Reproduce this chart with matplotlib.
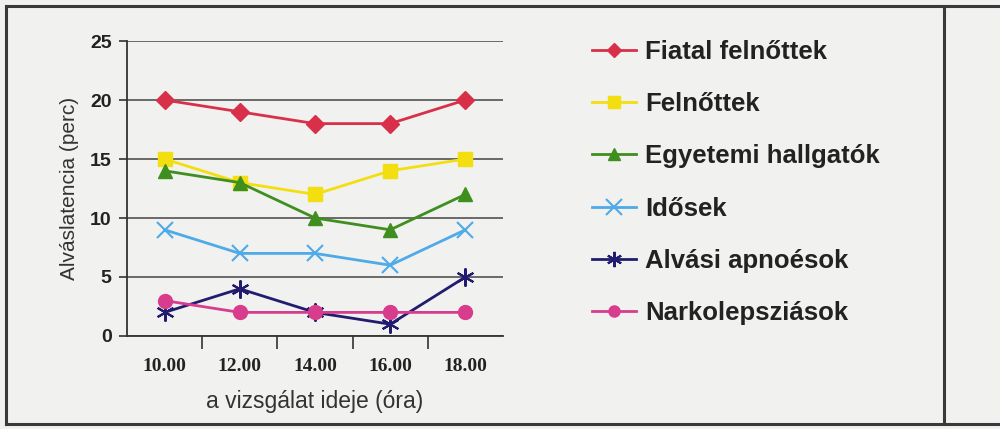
import matplotlib
matplotlib.use("Agg")
import matplotlib.pyplot as plt
from matplotlib.lines import Line2D

times = ["10.00", "12.00", "14.00", "16.00", "18.00"]
groups = ["Fiatal felnőttek", "Felnőttek", "Egyetemi hallgatók",
          "Idősek", "Alvási apnoésok", "Narkolepsziások"]
fiatal_felnottek = [20, 19, 18, 18, 20]
felnottek = [15, 13, 12, 14, 15]
egyetemi_hallgatok = [14, 13, 10, 9, 12]
idosek = [9, 7, 7, 6, 9]
alvasi_apnoesok = [2, 4, 2, 1, 5]
narkolepsziasok = [3, 2, 2, 2, 2]
series = [fiatal_felnottek, felnottek, egyetemi_hallgatok,
          idosek, alvasi_apnoesok, narkolepsziasok]
y_ticks = [0, 5, 10, 15, 20, 25]

colors = ["#d9304a", "#f3df10", "#3f8f1f", "#4eaae8", "#221c6e", "#d83c8c"]
markers = ["D", "s", "^", "x", (6, 2, 0), "o"]
plot_ms = [9, 10, 10, 12, 13, 10]
leg_ms = [7, 8, 8, 11, 11, 8]
mews = [1, 1, 1, 1.5, 1.5, 1]

bg = "#f1f1ef"
fig = plt.figure(figsize=(10, 4.29), dpi=100, facecolor=bg)
ax = fig.add_axes([0.127, 0.2168, 0.376, 0.6876], facecolor=bg)

xs = [i + 0.5 for i in range(len(times))]
handles = []
for vals, c, m, ms, lms, mew, name in zip(series, colors, markers, plot_ms,
                                          leg_ms, mews, groups):
    ax.plot(xs, vals, color=c, linewidth=2, marker=m, markersize=ms,
            markeredgewidth=mew)
    handles.append(Line2D([], [], color=c, linewidth=2, marker=m,
                          markersize=lms, markeredgewidth=mew, label=name))

ax.set_xlim(0, len(times))
ax.set_ylim(0, 25)
ax.set_yticks(y_ticks)
ax.set_yticklabels([str(v) for v in y_ticks], fontsize=14, fontweight="bold",
                   family="Liberation Sans", color="#222222")
ax.set_xticks(range(1, len(times)))
ax.set_xticklabels([])
ax.set_xticks(xs, minor=True)
ax.set_xticklabels(times, minor=True, fontsize=14, fontweight="bold",
                   family="Liberation Serif", color="#222222")
ax.tick_params(axis="x", which="major", length=9, width=1.2, direction="out", color="#333333")
ax.tick_params(axis="x", which="minor", length=0, pad=16)
ax.tick_params(axis="y", length=6, width=1.2, color="#333333", pad=5)
ax.grid(axis="y", color="#444444", linewidth=1.1)
ax.set_axisbelow(True)
for s in ["top", "right"]:
    ax.spines[s].set_visible(False)
for s in ["left", "bottom"]:
    ax.spines[s].set_color("#333333")
    ax.spines[s].set_linewidth(1.3)

ax.set_ylabel("Alváslatencia (perc)", fontsize=15, family="Liberation Sans",
              color="#333333", labelpad=8)
ax.set_xlabel("a vizsgálat ideje (óra)", fontsize=16.5, family="Liberation Sans",
              color="#333333", labelpad=11)

leg = fig.legend(handles=handles, loc="upper left", bbox_to_anchor=(0.569, 0.961),
                 frameon=False, handlelength=1.71, handletextpad=0.35,
                 labelspacing=1.1,
                 prop=dict(family="Liberation Sans", weight="bold", size=18.5))
for t in leg.get_texts():
    t.set_color("#222222")

# outer frame and right divider
frame_kw = dict(color="#3a3a3a", linewidth=2.2, transform=fig.transFigure)
fig.add_artist(Line2D([0.006, 1.0], [1 - 6 / 429, 1 - 6 / 429], **frame_kw))
fig.add_artist(Line2D([0.006, 1.0], [1 - 424 / 429, 1 - 424 / 429], **frame_kw))
fig.add_artist(Line2D([0.006, 0.006], [1 - 6 / 429, 1 - 424 / 429], **frame_kw))
fig.add_artist(Line2D([0.944, 0.944], [1 - 6 / 429, 1 - 424 / 429], **frame_kw))

fig.savefig("out.png", dpi=100, facecolor=bg)
